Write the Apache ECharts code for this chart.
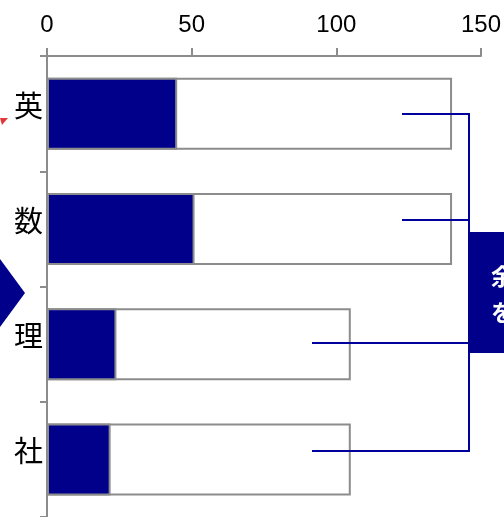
<!DOCTYPE html>
<html>
<head>
<meta charset="utf-8">
<style>
  html, body { margin: 0; padding: 0; background: #fff; }
  #chart { width: 504px; height: 517px; }
</style>
<script src="https://cdn.jsdelivr.net/npm/echarts@6/dist/echarts.min.js"></script>
</head>
<body>
<div id="chart"></div>
<script>
// Subjects, top to bottom
const subjects = ['英', '数', '理', '社'];
// Score reached in each subject
const scores = [45, 51, 24, 22];
// Full extent of each subject's bar
const totals = [140, 140, 105, 105];
// Value axis ticks
const axisMin = 0, axisMax = 150, axisStep = 50;

const navy = '#00008b';
const lineNavy = '#00009c';
const grayEdge = '#8c8c8c';

const chart = echarts.init(document.getElementById('chart'), null, { renderer: 'canvas' });

chart.setOption({
  animation: false,
  backgroundColor: '#ffffff',
  grid: { left: 47, right: 23, top: 56, height: 463, containLabel: false },
  xAxis: {
    type: 'value',
    position: 'top',
    min: axisMin, max: axisMax, interval: axisStep,
    axisLine: { show: true, lineStyle: { color: grayEdge, width: 2 } },
    axisTick: { show: true, inside: false, length: 8, lineStyle: { color: grayEdge, width: 2 } },
    splitLine: { show: false },
    axisLabel: { color: '#000', fontSize: 24, fontFamily: 'Liberation Sans, Arial, sans-serif', margin: 19 }
  },
  yAxis: {
    type: 'category',
    data: subjects,
    inverse: true,
    axisLine: { show: true, lineStyle: { color: grayEdge, width: 2 } },
    axisTick: { show: true, inside: false, length: 7, lineStyle: { color: grayEdge, width: 2 } },
    axisLabel: {
      color: '#000', fontSize: 29, margin: 4,
      fontFamily: 'Noto Sans CJK JP, sans-serif',
      verticalAlign: 'bottom', lineHeight: 16
    }
  },
  series: [
    {
      name: 'total', type: 'bar', data: totals, barWidth: 72,
      itemStyle: { color: '#ffffff', borderColor: grayEdge, borderWidth: 2 },
      z: 2
    },
    {
      name: 'score', type: 'bar', data: scores, barWidth: 72, barGap: '-100%',
      itemStyle: { color: navy, borderColor: grayEdge, borderWidth: 2 },
      z: 3
    }
  ],
  graphic: [
    // small red marker at the left edge
    { type: 'polygon', shape: { points: [[0, 118], [8, 118], [2, 125]] }, style: { fill: '#e2383c' }, z: 10 },
    // arrow head pointing into the chart
    { type: 'polygon', shape: { points: [[0, 259], [25, 293], [0, 327]] }, style: { fill: navy }, z: 10 },
    // callout box
    { type: 'rect', shape: { x: 468, y: 232, width: 40, height: 121 }, style: { fill: navy }, z: 10 },
    {
      type: 'text', left: 491, top: 258, z: 11,
      style: {
        text: '余白\nを残す', fill: '#fff', font: 'bold 23px "Noto Sans CJK JP", sans-serif',
        lineHeight: 36
      }
    },
    // leader lines joining the bars to the callout
    { type: 'polyline', shape: { points: [[402, 114], [469, 114], [469, 451], [312, 451]] }, style: { stroke: lineNavy, lineWidth: 2, fill: null }, z: 9 },
    { type: 'line', shape: { x1: 402, y1: 220, x2: 469, y2: 220 }, style: { stroke: lineNavy, lineWidth: 2 }, z: 9 },
    { type: 'line', shape: { x1: 312, y1: 343, x2: 469, y2: 343 }, style: { stroke: lineNavy, lineWidth: 2 }, z: 9 }
  ]
});
</script>
</body>
</html>
